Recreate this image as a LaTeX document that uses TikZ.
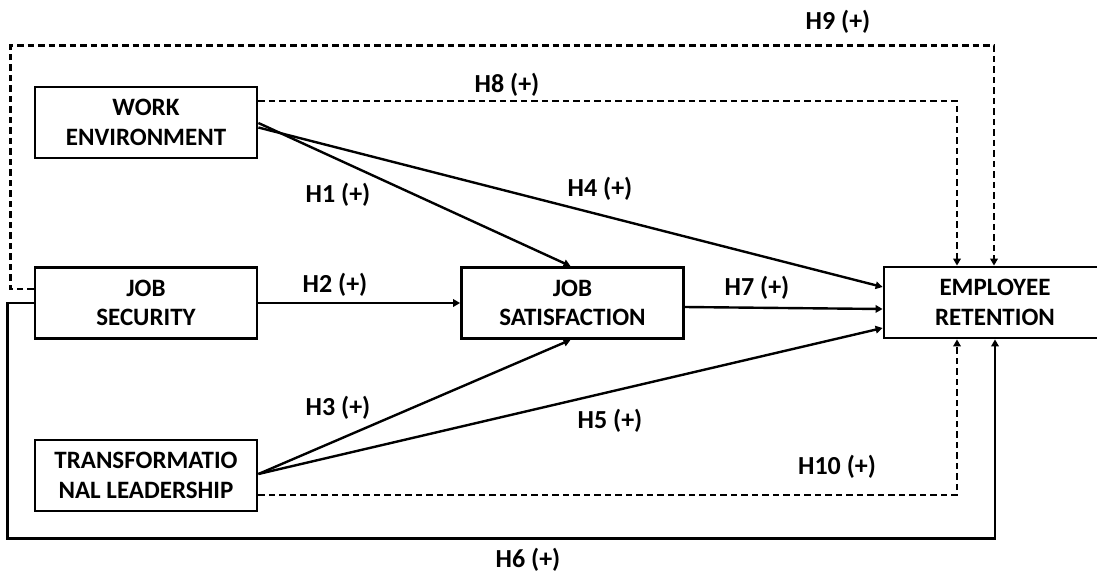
\documentclass[tikz,border=0pt]{standalone}
\usepackage{fontspec}
\setmainfont{Carlito}
\usetikzlibrary{arrows.meta,calc}
\begin{document}
\begin{tikzpicture}[x=1pt,y=-1pt,
  box/.style={draw,line width=2.8pt,rectangle,minimum width=222pt,minimum height=71pt,
    align=center,inner sep=0pt,font=\bfseries\fontsize{25}{29.5}\selectfont},
  lbl/.style={font=\bfseries\fontsize{26}{28}\selectfont,inner sep=0pt},
  conn/.style={line width=2.4pt,-{Triangle[length=7pt,width=7.5pt]}},
  dconn/.style={conn,dash pattern=on 6.5pt off 4pt}]
\useasboundingbox (0,0) rectangle (1097,576);
\node[box] (WE) at (146,122.5) {WORK\\ENVIRONMENT};
\node[box] (JSec) at (146,303) {JOB\\SECURITY};
\node[box] (TL) at (146,475.5) {TRANSFORMATIO\\NAL LEADERSHIP};
\node[box] (JSat) at (572.5,303) {JOB\\SATISFACTION};
\node[box] (ER) at (995,302.5) {EMPLOYEE\\RETENTION};
% solid
\draw[conn] ([yshift=-0.5pt]WE.east) -- ([xshift=-2pt]JSat.north);
\draw[conn] ([yshift=-5pt]WE.east) -- ([yshift=15.5pt]ER.west);
\draw[conn] (JSec.east) -- (JSat.west);
\draw[conn] ([yshift=-4pt]JSat.east) -- ([yshift=-6.5pt]ER.west);
\draw[conn] ([yshift=1.5pt]TL.east) -- ([xshift=-2pt]JSat.south);
\draw[conn] ([yshift=1.5pt]TL.east) -- ([yshift=-25.5pt]ER.west);
% H6 solid around
\draw[conn] (JSec.west) -- ++(-26,0) |- ($(ER.south)+(0,199)$) -- (ER.south);
% dashed
\draw[dconn] ([yshift=21.5pt]WE.east) -| ([xshift=-38pt]ER.north);
\draw[dconn] ([yshift=14pt]JSec.west) -- ++(-23,0) |- ($([xshift=-1pt]ER.north)+(0,-220)$) -- ([xshift=-1pt]ER.north);
\draw[dconn] ([yshift=-19.5pt]TL.east) -| ([xshift=-38pt]ER.south);
% labels
\node[lbl] (l9) at (838,22) {H9 (+)};
\node[lbl] (l8) at (507,85) {H8 (+)};
\node[lbl] (l1) at (338,195) {H1 (+)};
\node[lbl] (l4) at (600,189) {H4 (+)};
\node[lbl] (l2) at (335,285) {H2 (+)};
\node[lbl] (l7) at (757,288) {H7 (+)};
\node[lbl] (l3) at (338,408) {H3 (+)};
\node[lbl] (l5) at (610,421) {H5 (+)};
\node[lbl] (l10) at (837,467) {H10 (+)};
\node[lbl] (l6) at (528,560) {H6 (+)};
\end{tikzpicture}
\end{document}
